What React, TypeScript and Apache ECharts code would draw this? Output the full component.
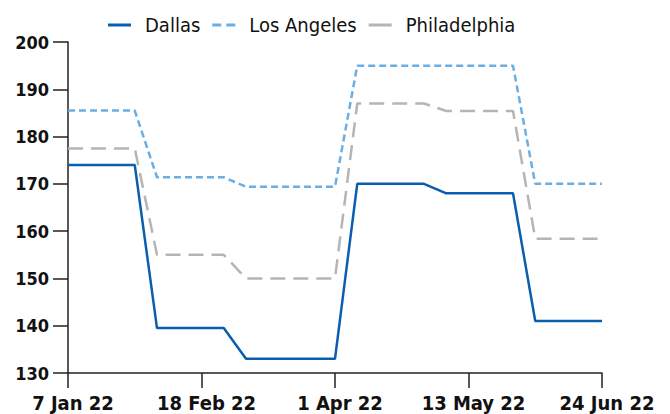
import React, { useEffect, useRef } from "react";
import * as echarts from "echarts";

const categories = [
  "7 Jan 22", "14 Jan 22", "21 Jan 22", "28 Jan 22", "4 Feb 22", "11 Feb 22",
  "18 Feb 22", "25 Feb 22", "4 Mar 22", "11 Mar 22", "18 Mar 22", "25 Mar 22",
  "1 Apr 22", "8 Apr 22", "15 Apr 22", "22 Apr 22", "29 Apr 22", "6 May 22",
  "13 May 22", "20 May 22", "27 May 22", "3 Jun 22", "10 Jun 22", "17 Jun 22",
  "24 Jun 22",
];

const dallas = [
  174, 174, 174, 174, 139.5, 139.5, 139.5, 139.5, 133, 133, 133, 133, 133,
  170, 170, 170, 170, 168, 168, 168, 168, 141, 141, 141, 141,
];
const losAngeles = [
  185.5, 185.5, 185.5, 185.5, 171.4, 171.4, 171.4, 171.4, 169.4, 169.4, 169.4,
  169.4, 169.4, 195, 195, 195, 195, 195, 195, 195, 195, 170, 170, 170, 170,
];
const philadelphia = [
  177.5, 177.5, 177.5, 177.5, 155, 155, 155, 155, 150, 150, 150, 150, 150,
  187, 187, 187, 187, 185.4, 185.4, 185.4, 185.4, 158.4, 158.4, 158.4, 158.4,
];

const yMin = 130;
const yMax = 200;
const yStep = 10;

const FONT = "'DejaVu Sans Condensed', 'DejaVu Sans', sans-serif";
const SOLID_ICON = "path://M0,0 H23 V3 H0 Z";
const DASH_ICON = "path://M0,0 H9 V3 H0 Z M14,0 H23 V3 H14 Z";

export default function App() {
  const ref = useRef<HTMLDivElement>(null);
  useEffect(() => {
    if (!ref.current) return;
    const chart = echarts.init(ref.current, null, { renderer: "svg" });
    chart.setOption({
      animation: false,
      textStyle: { fontFamily: FONT },
      legend: {
        top: 10,
        left: 103,
        itemWidth: 23,
        itemHeight: 3,
        itemGap: 12,
        formatter: (name: string) => "\u2002" + name,
        textStyle: { fontFamily: FONT, fontSize: 20, color: "#111" },
        data: [
          { name: "Dallas", icon: SOLID_ICON },
          { name: "Los Angeles", icon: DASH_ICON },
          { name: "Philadelphia", icon: SOLID_ICON },
        ],
      },
      grid: { left: 68, right: 68, top: 42, bottom: 41, containLabel: false },
      xAxis: {
        type: "category",
        data: categories,
        boundaryGap: false,
        axisLine: { show: true, lineStyle: { color: "#222", width: 1.5 } },
        axisTick: { show: true, interval: 5, length: 15, lineStyle: { color: "#222", width: 1.5 } },
        axisLabel: {
          interval: 5,
          margin: 20,
          fontFamily: FONT,
          fontSize: 20,
          fontWeight: "bold",
          color: "#111",
          padding: [0, 0, 0, 10],
          showMinLabel: true,
          showMaxLabel: true,
        },
        splitLine: { show: false },
      },
      yAxis: {
        type: "value",
        min: yMin,
        max: yMax,
        interval: yStep,
        axisLine: { show: true, lineStyle: { color: "#222", width: 1.5 } },
        axisTick: { show: true, length: 15, lineStyle: { color: "#222", width: 1.5 } },
        axisLabel: {
          margin: 19,
          fontFamily: FONT,
          fontSize: 18,
          fontWeight: "bold",
          color: "#111",
        },
        splitLine: { show: false },
      },
      series: [
        {
          name: "Dallas",
          type: "line",
          data: dallas,
          showSymbol: false,
          symbol: "none",
          color: "#0a5eae",
          lineStyle: { color: "#0a5eae", width: 2.5 },
        },
        {
          name: "Los Angeles",
          type: "line",
          data: losAngeles,
          showSymbol: false,
          symbol: "none",
          color: "#6aaee4",
          lineStyle: { color: "#6aaee4", width: 2.5, type: [7, 4] },
        },
        {
          name: "Philadelphia",
          type: "line",
          data: philadelphia,
          showSymbol: false,
          symbol: "none",
          color: "#b5b5b5",
          lineStyle: { color: "#b5b5b5", width: 2.5, type: [15, 8] },
        },
      ],
    });
    return () => chart.dispose();
  }, []);
  return (
    <div
      ref={ref}
      style={{ position: "fixed", left: 0, top: 0, width: 670, height: 414, background: "#fff" }}
    />
  );
}
